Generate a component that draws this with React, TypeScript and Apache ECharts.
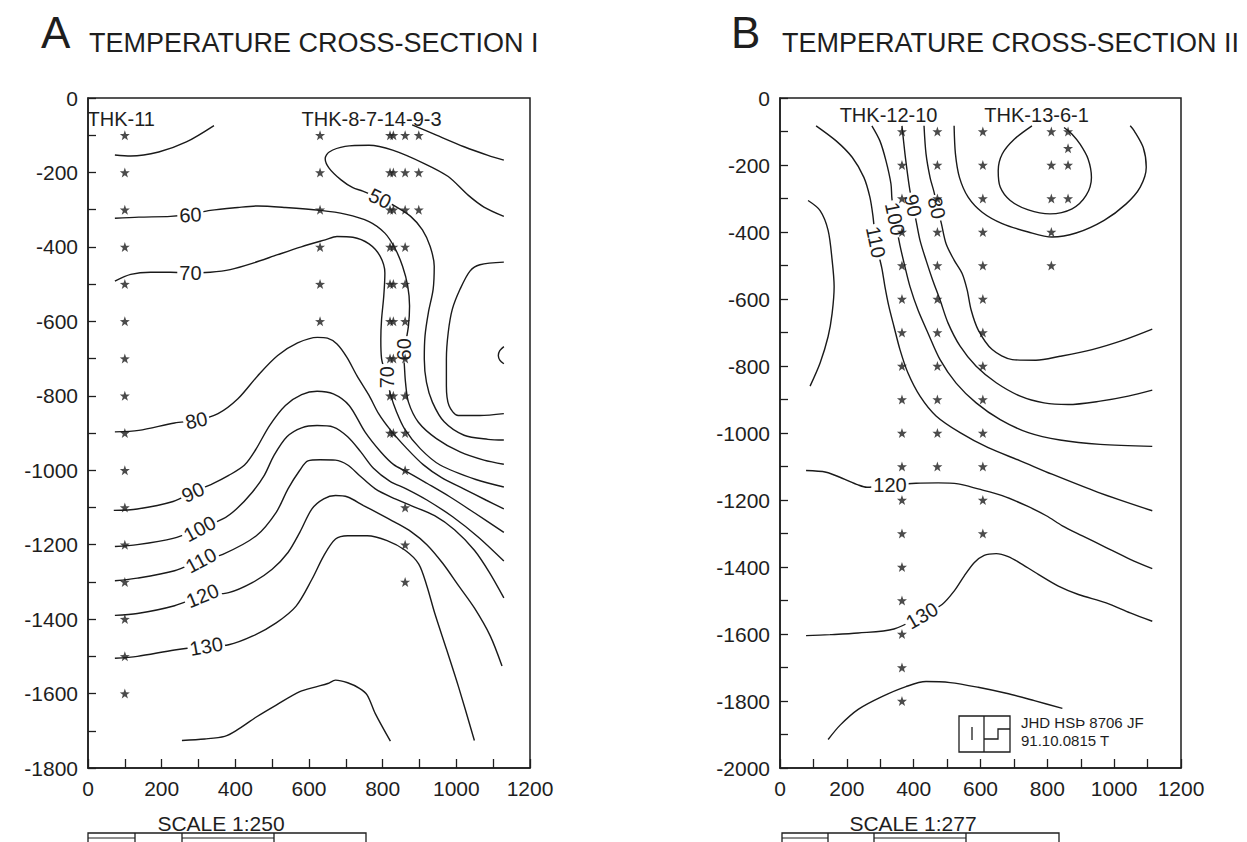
import React, { useEffect, useRef } from 'react';
import * as echarts from 'echarts';

// ---------- Panel A: contour lines (distance m, elevation m) ----------
const A_cTopLeft = [[73,-153],[116,-156],[192,-145],[267,-118],[342,-74]];
const A_cTopRight = [[880,-72],[946,-100],[1021,-131],[1086,-154],[1129,-167]];
const A_c50 = [[1129,-318],[1075,-293],[1032,-261],[978,-211],[913,-176],[827,-140],[763,-127],[698,-130],[655,-145],[644,-163],[655,-189],[687,-220],[719,-241],[746,-250],[793,-270],[838,-293],[876,-318],[908,-354],[929,-399],[940,-452],[937,-514],[924,-577],[915,-639],[913,-701],[919,-764],[935,-817],[967,-870],[1021,-906],[1086,-917],[1129,-919]];
const A_cRight = [[1129,-441],[1064,-448],[1037,-465],[1010,-514],[989,-568],[978,-630],[973,-701],[973,-773],[980,-826],[1005,-853],[1064,-853],[1129,-848]];
const A_cSmall = [[1129,-668],[1118,-679],[1114,-692],[1118,-704],[1129,-714]];
const A_c60 = [[73,-323],[138,-320],[224,-318],[278,-313],[332,-302],[407,-294],[461,-290],[536,-294],[631,-302],[698,-312],[763,-332],[806,-363],[833,-403],[854,-452],[868,-505],[873,-559],[870,-612],[862,-660],[857,-690],[859,-720],[862,-764],[870,-817],[897,-871],[946,-915],[1010,-951],[1075,-973],[1129,-984]];
const A_c70 = [[73,-492],[116,-474],[170,-468],[224,-468],[278,-470],[332,-468],[386,-461],[450,-443],[515,-421],[579,-400],[644,-381],[676,-372],[719,-374],[763,-392],[793,-425],[806,-470],[803,-532],[797,-595],[795,-648],[797,-700],[811,-750],[822,-799],[838,-844],[859,-888],[902,-942],[956,-986],[1053,-1025],[1129,-1045]];
const A_c80 = [[73,-897],[138,-893],[235,-873],[294,-866],[353,-848],[407,-808],[461,-746],[515,-692],[569,-658],[623,-643],[650,-645],[676,-661],[703,-697],[730,-746],[763,-799],[789,-848],[822,-893],[864,-940],[910,-985],[960,-1020],[1020,-1050],[1080,-1080],[1129,-1104]];
const A_c90 = [[70,-1108],[134,-1104],[231,-1084],[285,-1059],[339,-1036],[382,-1014],[425,-986],[455,-945],[493,-880],[536,-826],[580,-797],[622,-788],[666,-795],[709,-826],[752,-897],[795,-951],[830,-985],[864,-1003],[920,-1035],[980,-1070],[1050,-1115],[1129,-1167]];
const A_c100 = [[73,-1205],[134,-1200],[231,-1183],[303,-1157],[366,-1131],[403,-1104],[446,-1059],[479,-1013],[505,-960],[540,-910],[580,-886],[622,-880],[666,-884],[705,-910],[740,-950],[775,-995],[820,-1030],[864,-1050],[920,-1080],[990,-1125],[1060,-1180],[1129,-1244]];
const A_c110 = [[73,-1297],[134,-1290],[235,-1270],[307,-1242],[366,-1226],[457,-1176],[511,-1113],[543,-1050],[575,-1000],[597,-975],[630,-972],[672,-973],[705,-986],[737,-1014],[780,-1050],[834,-1077],[877,-1095],[941,-1122],[995,-1160],[1049,-1215],[1090,-1275],[1129,-1343]];
const A_c120 = [[73,-1390],[134,-1385],[235,-1364],[311,-1337],[382,-1329],[446,-1302],[500,-1266],[543,-1221],[575,-1167],[608,-1104],[640,-1077],[672,-1068],[705,-1072],[748,-1095],[791,-1117],[834,-1140],[877,-1165],[920,-1200],[963,-1250],[1006,-1310],[1049,-1370],[1092,-1445],[1124,-1526]];
const A_c130 = [[73,-1505],[134,-1500],[235,-1483],[321,-1473],[382,-1469],[446,-1446],[511,-1410],[565,-1365],[608,-1293],[640,-1230],[672,-1185],[705,-1176],[758,-1176],[812,-1189],[861,-1215],[898,-1252],[920,-1311],[941,-1383],[974,-1483],[1006,-1582],[1049,-1726]];
const A_c140 = [[255,-1726],[317,-1722],[371,-1715],[403,-1699],[457,-1663],[511,-1631],[575,-1595],[619,-1582],[651,-1573],[672,-1564],[705,-1571],[737,-1586],[758,-1604],[780,-1654],[821,-1728]];

// contour labels: [text, x, y, rotation]
const A_labels = [
  ['60', 278, -314, 3], ['70', 278, -469, 0], ['80', 294, -866, 12], ['90', 285, -1059, 25],
  ['100', 303, -1157, 28], ['110', 307, -1242, 28], ['120', 311, -1337, 22], ['130', 321, -1473, 10],
  ['50', 793, -270, -26], ['60', 857, -675, 90], ['70', 811, -750, 90],
];

// wells (x position) and measurement depths
const A_THK11_x = 100;
const A_THK11 = [-100,-200,-300,-400,-500,-600,-700,-800,-900,-1000,-1100,-1200,-1300,-1400,-1500,-1600];
const A_THK8_x = 630;
const A_THK8 = [-100,-200,-300,-400,-500,-600];
const A_THK7_x = 820;
const A_THK7 = [-100,-200,-300,-400,-500,-600,-700,-800,-900];
const A_THK14_x = 829;
const A_THK14 = [-100,-200,-300,-400,-500,-600,-700,-800,-900];
const A_THK9_x = 861;
const A_THK9 = [-100,-200,-300,-400,-500,-600,-700,-800,-900,-1000,-1100,-1200,-1300];
const A_THK3_x = 898;
const A_THK3 = [-100,-200,-300];

// ---------- Panel B ----------
const B_cLeft = [[84,-306],[120,-336],[144,-395],[156,-484],[162,-563],[156,-643],[144,-712],[120,-791],[90,-860]];
const B_c110 = [[108,-83],[168,-128],[216,-177],[251,-237],[269,-296],[278,-351],[287,-430],[305,-509],[314,-563],[326,-623],[341,-682],[359,-751],[383,-821],[419,-890],[467,-949],[539,-999],[623,-1044],[719,-1083],[814,-1123],[952,-1177],[1114,-1232]];
const B_c100 = [[275,-83],[299,-128],[317,-187],[332,-256],[335,-301],[344,-361],[359,-440],[374,-504],[389,-563],[413,-633],[443,-702],[479,-781],[527,-851],[587,-910],[659,-960],[743,-999],[838,-1021],[958,-1034],[1114,-1040]];
const B_c90 = [[365,-83],[374,-167],[383,-237],[389,-277],[398,-321],[407,-365],[419,-425],[437,-484],[457,-544],[479,-603],[503,-672],[539,-741],[587,-801],[647,-850],[719,-890],[790,-910],[862,-915],[958,-905],[1042,-890],[1114,-872]];
const B_c80 = [[431,-83],[437,-167],[449,-237],[461,-281],[471,-326],[483,-375],[497,-435],[521,-484],[545,-524],[560,-573],[572,-633],[593,-692],[635,-751],[695,-781],[766,-783],[838,-771],[934,-751],[1030,-722],[1114,-690]];
const B_cU = [[521,-83],[525,-167],[537,-237],[563,-296],[605,-341],[665,-375],[743,-400],[814,-415],[886,-403],[970,-365],[1036,-316],[1078,-266],[1096,-207],[1087,-148],[1060,-98],[1048,-83]];
const B_cInner = [[754,-83],[701,-123],[665,-167],[653,-217],[659,-266],[689,-306],[743,-334],[808,-346],[874,-331],[916,-291],[932,-237],[922,-182],[898,-138],[874,-108],[850,-88]];
const B_c120 = [[78,-1112],[138,-1117],[186,-1135],[234,-1155],[260,-1162],[329,-1155],[407,-1150],[473,-1149],[533,-1152],[593,-1167],[665,-1187],[737,-1217],[797,-1247],[845,-1277],[905,-1307],[976,-1342],[1048,-1377],[1114,-1405]];
const B_c130 = [[78,-1605],[150,-1602],[234,-1597],[341,-1585],[425,-1545],[485,-1512],[521,-1472],[551,-1427],[581,-1387],[611,-1365],[647,-1360],[683,-1369],[725,-1392],[773,-1422],[833,-1457],[893,-1482],[976,-1507],[1048,-1537],[1114,-1562]];
const B_c140 = [[144,-1915],[180,-1872],[234,-1825],[305,-1787],[377,-1757],[437,-1742],[509,-1745],[593,-1759],[677,-1777],[761,-1799],[845,-1822]];

const B_labels = [
  ['110', 287, -430, -78], ['100', 344, -361, -78], ['90', 398, -321, -78], ['80', 469, -328, -78],
  ['120', 329, -1155, 0], ['130', 425, -1545, 30],
];

const B_THK12_x = 365;
const B_THK12 = [-100,-200,-300,-400,-500,-600,-700,-800,-900,-1000,-1100,-1200,-1300,-1400,-1500,-1600,-1700,-1800];
const B_THK10_x = 471;
const B_THK10 = [-100,-200,-300,-400,-500,-600,-700,-800,-900,-1000,-1100];
const B_THK13_x = 607;
const B_THK13 = [-100,-200,-300,-400,-500,-600,-700,-800,-900,-1000,-1100,-1200,-1300];
const B_THK6_x = 812;
const B_THK6 = [-100,-200,-300,-400,-500];
const B_THK1_x = 862;
const B_THK1 = [-100,-150,-200,-300];

// well name labels: [text, x, y]
const A_wellNames = [['THK-11', 0, -59], ['THK-8-7-14-9-3', 581, -59]];
const B_wellNames = [['THK-12-10', 180, -51], ['THK-13-6-1', 613, -51]];

const FONT = '"Liberation Sans", Arial, Helvetica, sans-serif';
const INK = '#1e1e1e';
const STAR = 'path://M0,-10L2.35,-3.24L9.51,-3.09L3.8,1.24L5.88,8.09L0,4L-5.88,8.09L-3.8,1.24L-9.51,-3.09L-2.35,-3.24Z';

function lineSeries(data: number[][], gi: number) {
  return {
    type: 'line', xAxisIndex: gi, yAxisIndex: gi, data, symbol: 'none', showSymbol: false,
    smooth: 0.3, silent: true, z: 2,
    lineStyle: { color: '#1a1a1a', width: 1.4 },
  };
}
function starSeries(x: number, depths: number[], gi: number) {
  return {
    type: 'scatter', xAxisIndex: gi, yAxisIndex: gi, data: depths.map((d) => [x, d]),
    symbol: STAR, symbolSize: 10, itemStyle: { color: INK }, silent: true, z: 6,
  };
}
function labelSeries(labels: any[], gi: number) {
  return {
    type: 'scatter', xAxisIndex: gi, yAxisIndex: gi, symbol: 'circle', symbolSize: 1,
    itemStyle: { color: 'rgba(0,0,0,0)' }, silent: true, z: 5,
    data: labels.map((l) => ({
      value: [l[1], l[2]],
      label: {
        show: true, position: 'inside', formatter: l[0], rotate: l[3],
        fontSize: 20, fontFamily: FONT, color: INK, backgroundColor: '#fff', padding: [0, 2],
        textBorderWidth: 0, opacity: 1,
      },
    })),
  };
}
function nameSeries(labels: any[], gi: number) {
  return {
    type: 'scatter', xAxisIndex: gi, yAxisIndex: gi, symbol: 'circle', symbolSize: 1,
    itemStyle: { color: 'rgba(0,0,0,0)' }, silent: true, z: 5,
    data: labels.map((l) => ({
      value: [l[1], l[2]],
      label: {
        show: true, position: [0, 0], align: 'left', verticalAlign: 'middle', formatter: l[0],
        fontSize: 20, fontFamily: FONT, color: INK, textBorderWidth: 0, opacity: 1,
      },
    })),
  };
}

function xAxis(gi: number) {
  return {
    gridIndex: gi, type: 'value', min: 0, max: 1200, interval: 100,
    axisLine: { show: true, onZero: false, lineStyle: { color: INK, width: 1.5 } },
    axisTick: { show: true, inside: true, length: 9, lineStyle: { color: INK, width: 1.3 } },
    axisLabel: {
      show: true, fontSize: 21, fontFamily: FONT, color: INK, margin: 10,
      showMinLabel: true, showMaxLabel: true,
      formatter: (v: number) => (v % 200 === 0 ? String(v) : ''),
    },
    splitLine: { show: false },
  };
}
function yAxis(gi: number, min: number) {
  return {
    gridIndex: gi, type: 'value', min, max: 0, interval: 100,
    axisLine: { show: true, onZero: false, lineStyle: { color: INK, width: 1.5 } },
    axisTick: { show: true, inside: true, length: 8, lineStyle: { color: INK, width: 1.3 } },
    axisLabel: {
      show: true, fontSize: 21, fontFamily: FONT, color: INK, margin: 10,
      showMinLabel: true, showMaxLabel: true,
      formatter: (v: number) => (v % 200 === 0 ? String(v) : ''),
    },
    splitLine: { show: false },
  };
}

function scaleBar(x0: number, xs: number[], x1: number) {
  const els: any[] = [];
  const y0 = 833, y1 = 852;
  els.push({ type: 'rect', shape: { x: x0, y: y0, width: x1 - x0, height: y1 - y0 }, style: { fill: '#fff', stroke: INK, lineWidth: 1.3 } });
  xs.forEach((x) => els.push({ type: 'line', shape: { x1: x, y1: y0, x2: x, y2: y1 }, style: { stroke: INK, lineWidth: 1.3 } }));
  els.push({ type: 'line', shape: { x1: x0, y1: 838, x2: xs[0], y2: 838 }, style: { stroke: INK, lineWidth: 1 } });
  els.push({ type: 'line', shape: { x1: xs[1], y1: 838, x2: xs[2], y2: 838 }, style: { stroke: INK, lineWidth: 1 } });
  return els;
}

function txt(text: string, x: number, y: number, size: number, align = 'left') {
  return {
    type: 'text', x, y, silent: true,
    style: { text, font: `${size}px ${FONT}`, fill: INK, align, verticalAlign: 'middle', textAlign: align, textVerticalAlign: 'middle' },
  };
}

export default function App() {
  const ref = useRef<HTMLDivElement>(null);
  useEffect(() => {
    if (!ref.current) return;
    const chart = echarts.init(ref.current, null, { renderer: 'svg' });
    const series: any[] = [];
    [A_cTopLeft, A_cTopRight, A_c50, A_cRight, A_cSmall, A_c60, A_c70, A_c80, A_c90, A_c100, A_c110, A_c120, A_c130, A_c140]
      .forEach((c) => series.push(lineSeries(c, 0)));
    [B_cLeft, B_c110, B_c100, B_c90, B_c80, B_cU, B_cInner, B_c120, B_c130, B_c140]
      .forEach((c) => series.push(lineSeries(c, 1)));
    series.push(labelSeries(A_labels, 0), labelSeries(B_labels, 1));
    series.push(nameSeries(A_wellNames, 0), nameSeries(B_wellNames, 1));
    series.push(
      starSeries(A_THK11_x, A_THK11, 0), starSeries(A_THK8_x, A_THK8, 0), starSeries(A_THK7_x, A_THK7, 0),
      starSeries(A_THK14_x, A_THK14, 0), starSeries(A_THK9_x, A_THK9, 0), starSeries(A_THK3_x, A_THK3, 0),
      starSeries(B_THK12_x, B_THK12, 1), starSeries(B_THK10_x, B_THK10, 1), starSeries(B_THK13_x, B_THK13, 1),
      starSeries(B_THK6_x, B_THK6, 1), starSeries(B_THK1_x, B_THK1, 1),
    );

    const graphic: any[] = [
      txt('A', 41, 32, 44), txt('TEMPERATURE CROSS-SECTION I', 89, 43, 27),
      txt('B', 731, 32, 44), txt('TEMPERATURE CROSS-SECTION II', 782, 43, 27),
      txt('SCALE 1:250', 221, 823, 21, 'center'), txt('SCALE 1:277', 913, 823, 21, 'center'),
      ...scaleBar(88, [135, 182, 274], 366),
      ...scaleBar(782, [828, 874, 966], 1059),
      { type: 'rect', shape: { x: 959, y: 716, width: 51, height: 36 }, style: { fill: '#fff', stroke: INK, lineWidth: 1.3 } },
      { type: 'line', shape: { x1: 984, y1: 716, x2: 984, y2: 752 }, style: { stroke: INK, lineWidth: 1.3 } },
      { type: 'line', shape: { x1: 972, y1: 727, x2: 972, y2: 740 }, style: { stroke: INK, lineWidth: 1.3 } },
      { type: 'polyline', shape: { points: [[984, 739], [998, 739], [998, 729], [1010, 729]] }, style: { stroke: INK, fill: null, lineWidth: 1.3 } },
      txt('JHD HSÞ 8706 JF', 1021, 722, 15), txt('91.10.0815 T', 1021, 740, 15),
    ];

    chart.setOption({
      animation: false,
      backgroundColor: '#fff',
      grid: [
        { left: 88, top: 98, width: 442, height: 670, show: true, borderColor: INK, borderWidth: 1.5, backgroundColor: 'transparent' },
        { left: 780, top: 98, width: 401, height: 670, show: true, borderColor: INK, borderWidth: 1.5, backgroundColor: 'transparent' },
      ],
      xAxis: [xAxis(0), xAxis(1)],
      yAxis: [yAxis(0, -1800), yAxis(1, -2000)],
      series,
      graphic,
    });
    return () => chart.dispose();
  }, []);
  return <div ref={ref} style={{ position: 'absolute', left: 0, top: 0, width: 1247, height: 842 }} />;
}
